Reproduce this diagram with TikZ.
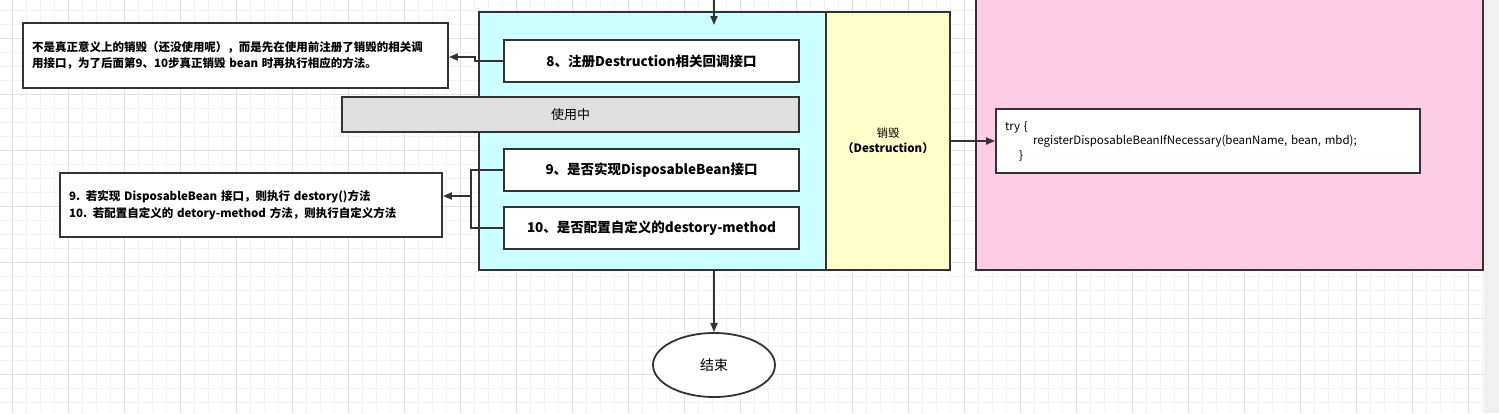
\documentclass[tikz,border=0pt]{standalone}
\usepackage{fontspec}
\setmainfont{Noto Sans CJK SC}
\usetikzlibrary{arrows.meta,shapes.geometric}
\definecolor{ln}{HTML}{333333}
\definecolor{cyanC}{HTML}{CCFFFF}
\definecolor{yellowC}{HTML}{FFFFCC}
\definecolor{pinkC}{HTML}{FFCCE6}
\definecolor{grayC}{HTML}{E0E0E0}
\definecolor{gridminor}{HTML}{F2F2F2}
\definecolor{gridmajor}{HTML}{E2E2E2}
\definecolor{outside}{HTML}{F0F0F0}
\tikzset{
  base/.style={draw=ln, line width=1.8pt, inner sep=0pt, text=black},
  stepbox/.style={base, fill=white, minimum width=295pt, minimum height=42pt, font=\fontsize{13.5}{16}\selectfont\bfseries},
  note/.style={base, fill=white, align=left, inner sep=9pt, font=\fontsize{11.5}{16.5}\selectfont\bfseries},
  arr/.style={draw=ln, line width=1.8pt, -{Triangle[length=9pt,width=7pt]}},
  conn/.style={draw=ln, line width=1.8pt},
}
\begin{document}
\begin{tikzpicture}[x=1pt,y=-1pt]
\useasboundingbox (0,0) rectangle (1499,413);
\clip (0,0) rectangle (1499,413);
% background and grid
\fill[white] (0,0) rectangle (1483.5,413);
\fill[outside] (1483.5,0) rectangle (1499,413);
\foreach \i in {0,...,105} \draw[gridminor, line width=1pt] ({12.3+14*\i},0) -- ({12.3+14*\i},413);
\foreach \i in {0,...,28} \draw[gridminor, line width=1pt] (0,{10.3+14*\i}) -- (1483.5,{10.3+14*\i});
\foreach \i in {0,...,26} \draw[gridmajor, line width=1pt] ({12.3+56*\i},0) -- ({12.3+56*\i},413);
\foreach \i in {0,...,6} \draw[gridmajor, line width=1pt] (0,{38.3+56*\i}) -- (1483.5,{38.3+56*\i});

% containers
\node[base, fill=cyanC, minimum width=347pt, minimum height=258pt] (cyan) at (652.5,141) {};
\node[base, fill=yellowC, minimum width=124pt, minimum height=258pt, align=center,
      font=\fontsize{11.5}{15}\selectfont] (yellow) at (888,141) {销毁\\\textbf{（Destruction）}};
\node[base, fill=pinkC, minimum width=507pt, minimum height=300pt] (pink) at (1229.5,120) {};

% steps
\node[stepbox] (b8) at (651.5,61) {8、注册Destruction相关回调接口};
\node[base, fill=grayC, minimum width=457pt, minimum height=35pt, font=\fontsize{13}{16}\selectfont] (use) at (570.5,114.5) {使用中};
\node[stepbox] (b9) at (651.5,170) {9、是否实现DisposableBean接口};
\node[stepbox] (b10) at (651.5,228) {10、是否配置自定义的destory-method};

% notes
\node[note, minimum width=425pt, minimum height=65pt, text width=407pt] (n1) at (235.5,55.5)
  {不是真正意义上的销毁（还没使用呢），而是先在使用前注册了销毁的相关调\\用接口，为了后面第9、10步真正销毁 bean 时再执行相应的方法。};
\node[note, minimum width=382pt, minimum height=64pt, text width=364pt] (n2) at (251,205)
  {9. 若实现 DisposableBean 接口，则执行 destory()方法\\10. 若配置自定义的 detory-method 方法，则执行自定义方法};

\node[base, fill=white, minimum width=424pt, minimum height=64pt, text width=406pt, inner sep=9pt,
      align=left, font=\fontsize{11.5}{14.5}\selectfont] (try) at (1208,141)
  {try \{\\\hspace*{28pt}registerDisposableBeanIfNecessary(beanName, bean, mbd);\\\hspace*{14pt}\}};

\node[base, fill=white, ellipse, minimum width=122pt, minimum height=64pt, font=\fontsize{14}{16}\selectfont] (end) at (714,365) {结束};

% connectors
\coordinate (topin) at (714,-3);
\coordinate (topend) at (714,25);
\draw[arr] (topin) -- (topend);
\draw[arr] (b8.west) -- ++(-28,0) -- ++(0,-4) -- (n1.east |- 0,57);
\draw[conn] (b9.west) -- ++(-32,0) -- ++(0,26);
\draw[arr] (b10.west) -- ++(-32,0) -- ++(0,-32) -- (n2.east |- 0,196);
\draw[arr] (yellow.east) -- (try.west);
\draw[arr] (cyan.south -| end.north) -- (end.north);
\end{tikzpicture}
\end{document}
